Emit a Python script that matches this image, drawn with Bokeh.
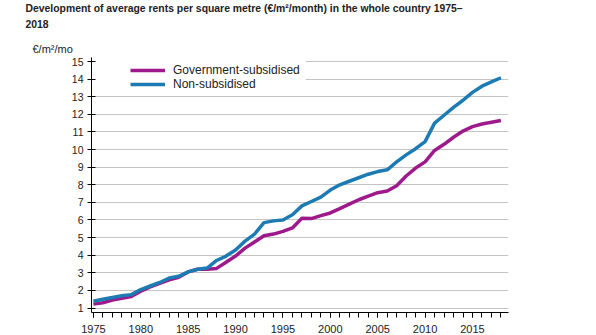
from bokeh.plotting import figure
from bokeh.models import (ColumnDataSource, Range1d, FixedTicker, Title, Legend, LegendItem, BoxAnnotation)
from bokeh.embed import file_html
from bokeh.resources import INLINE

years = list(range(1975, 2019))
gov_subsidised = [1.22, 1.3, 1.45, 1.55, 1.65, 1.95, 2.2, 2.4, 2.6, 2.75,
                  3.05, 3.2, 3.2, 3.25, 3.6, 3.95, 4.4, 4.75, 5.1, 5.2,
                  5.35, 5.55, 6.1, 6.08, 6.25, 6.4, 6.65, 6.9, 7.15, 7.35,
                  7.55, 7.65, 7.95, 8.5, 8.95, 9.3, 9.95, 10.3, 10.7, 11.05,
                  11.3, 11.45, 11.55, 11.65]
non_subsidised = [1.38, 1.5, 1.6, 1.7, 1.76, 2.05, 2.25, 2.45, 2.7, 2.8,
                  3.05, 3.2, 3.27, 3.7, 3.95, 4.3, 4.8, 5.2, 5.85, 5.95,
                  6.0, 6.3, 6.8, 7.05, 7.3, 7.7, 8.0, 8.2, 8.4, 8.6,
                  8.75, 8.85, 9.3, 9.7, 10.05, 10.45, 11.5, 11.95, 12.4, 12.8,
                  13.25, 13.6, 13.85, 14.08]
x_major = [1975, 1980, 1985, 1990, 1995, 2000, 2005, 2010, 2015]
y_ticks = list(range(1, 16))
series_names = ["Government-subsidised", "Non-subsidised"]
title_lines = ["Development of average rents per square metre (\u20ac/m\u00b2/month) in the whole country 1975\u2013", "2018"]
unit_label = "\u20ac/m\u00b2/mo"

W, H = 596, 335
FONT = "Liberation Sans"
FL, FB = 91, 313  # frame left / bottom in page pixels

p = figure(width=W, height=H, output_backend="svg", toolbar_location=None,
           x_range=Range1d(1974.8, 2018.8), y_range=Range1d(0.745, 15.23),
           min_border_left=FL, min_border_right=88, min_border_top=57, min_border_bottom=H - FB)
p.outline_line_color = None
p.background_fill_color = "white"
p.border_fill_color = "white"

src = ColumnDataSource(dict(year=years, gov=gov_subsidised, non=non_subsidised))
r_gov = p.line("year", "gov", source=src, line_color="#9e1a8c", line_width=3.5)
r_non = p.line("year", "non", source=src, line_color="#1d7bb3", line_width=3.5)

# axes
p.xaxis.ticker = FixedTicker(ticks=x_major, minor_ticks=years)
p.xaxis.major_tick_in = 0
p.xaxis.major_tick_out = 5
p.xaxis.minor_tick_in = 0
p.xaxis.minor_tick_out = 5
p.xaxis.major_label_standoff = 7
p.xaxis.major_label_text_font = FONT
p.xaxis.major_label_text_font_size = "11px"
p.xaxis.major_label_text_color = "#222222"
p.xaxis.axis_line_color = "black"
p.xaxis.major_tick_line_color = "black"
p.xaxis.minor_tick_line_color = "black"

p.yaxis.ticker = FixedTicker(ticks=y_ticks)
p.yaxis.major_tick_in = 4
p.yaxis.major_tick_out = 4
p.yaxis.minor_tick_line_color = None
p.yaxis.major_label_standoff = 4
p.yaxis.major_label_text_font = FONT
p.yaxis.major_label_text_font_size = "10.5px"
p.yaxis.major_label_text_color = "#222222"
p.yaxis.axis_line_color = "black"

p.xgrid.grid_line_color = None
p.ygrid.ticker = FixedTicker(ticks=y_ticks)
p.ygrid.grid_line_color = "#c4c4c4"
p.ygrid.grid_line_width = 1

# white panel behind the legend hides the top grid lines on the left
p.add_layout(BoxAnnotation(left=1974.8, right=1997.4, bottom=13.3, top=15.23,
                           fill_color="white", fill_alpha=1.0, line_color=None,
                           level="underlay"))

legend = Legend(items=[LegendItem(label=series_names[0], renderers=[r_gov]),
                       LegendItem(label=series_names[1], renderers=[r_non])],
                location=(39, FB - 91.7), margin=0, padding=0,
                glyph_width=35, glyph_height=14, label_height=14,
                label_standoff=8, spacing=0,
                label_text_font=FONT, label_text_font_size="12px",
                label_text_color="#222222",
                border_line_color=None, background_fill_alpha=0.0)
p.add_layout(legend, "center")

# titles stacked above the frame (first added = nearest the frame)
def ttl(x, text, bold, size, standoff):
    return Title(text=text, align="left", offset=x - FL, standoff=standoff,
                 text_font=FONT, text_font_style="bold" if bold else "normal",
                 text_font_size=size, text_color="#222222")

p.add_layout(ttl(32, unit_label, False, "11px", 5), "above")
p.add_layout(ttl(32, " ", False, "4px", 0), "above")   # spacing between unit and title
p.add_layout(ttl(25, title_lines[1], True, "10.4px", 8), "above")
p.add_layout(ttl(25, title_lines[0], True, "10.4px", 0), "above")

open("out.html", "w").write(file_html(p, INLINE))
